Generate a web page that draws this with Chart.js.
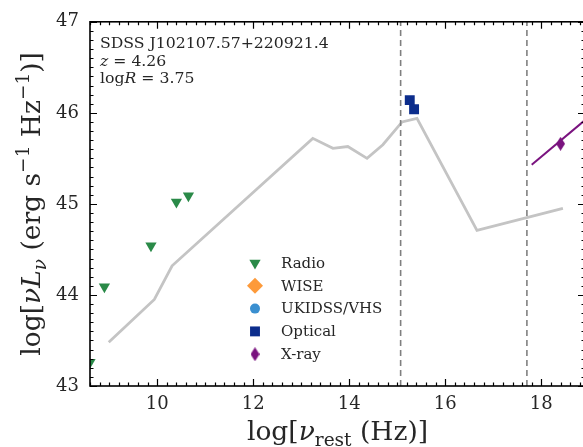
<!DOCTYPE html>
<html>
<head>
<meta charset="utf-8">
<script src="https://cdn.jsdelivr.net/npm/chart.js@4.4.0/dist/chart.umd.min.js"></script>
<style>
    html, body { margin: 0; padding: 0; background: #fff; overflow: hidden; }
    #wrap { width: 600px; height: 447px; }
</style>
</head>
<body>
<div id="wrap"><canvas id="sedChart" width="600" height="447"></canvas></div>
<script>
// axis ranges and tick labels
const xRange = [8.6, 18.91];
const yRange = [43, 47];
const xTickValues = [10, 12, 14, 16, 18];
const yTickValues = [43, 44, 45, 46, 47];

// SED template (grey line)
const sedX = [8.99, 9.94, 10.31, 13.24, 13.66, 13.97, 14.37, 14.70, 15.10, 15.41, 16.66, 18.45];
const sedY = [43.48, 43.95, 44.32, 45.72, 45.61, 45.63, 45.50, 45.65, 45.90, 45.94, 44.71, 44.95];

// photometry
const radioX = [8.60, 8.90, 9.87, 10.40, 10.65];
const radioY = [43.26, 44.09, 44.54, 45.02, 45.09];
const wiseX = [];
const wiseY = [];
const ukidssX = [];
const ukidssY = [];
const opticalX = [15.26, 15.35];
const opticalY = [46.14, 46.04];
const xrayX = [18.40];
const xrayY = [45.66];
const xrayFitX = [17.80, 19.00];
const xrayFitY = [45.43, 45.96];

// band edges (dashed verticals)
const bandEdges = [15.07, 17.70];

const FONT = "'DejaVu Serif', 'Liberation Serif', serif";

function pts(xs, ys) {
    return xs.map((x, i) => ({ x: x, y: ys[i] }));
}

// thin diamond marker like matplotlib 'd'
function thinDiamond(w, h, color) {
    const c = document.createElement('canvas');
    c.width = w; c.height = h;
    const g = c.getContext('2d');
    g.fillStyle = color;
    g.beginPath();
    g.moveTo(w / 2, 0);
    g.lineTo(w, h / 2);
    g.lineTo(w / 2, h);
    g.lineTo(0, h / 2);
    g.closePath();
    g.fill();
    return c;
}

const xrayColor = '#7a137f';
const xrayMarker = thinDiamond(9, 14, xrayColor);

const datasets = [
    {
        label: 'Radio', inLegend: true, data: pts(radioX, radioY),
        pointStyle: 'triangle', rotation: 180, pointRadius: 6.5,
        backgroundColor: '#2a8a48', borderColor: '#2a8a48', borderWidth: 0, order: 1
    },
    {
        label: 'WISE', inLegend: true, data: pts(wiseX, wiseY),
        pointStyle: 'rectRot', pointRadius: 8,
        backgroundColor: '#fd9a3a', borderColor: '#fd9a3a', borderWidth: 0, order: 1
    },
    {
        label: 'UKIDSS/VHS', inLegend: true, data: pts(ukidssX, ukidssY),
        pointStyle: 'circle', pointRadius: 5,
        backgroundColor: '#3a8fd0', borderColor: '#3a8fd0', borderWidth: 0, order: 1
    },
    {
        label: 'Optical', inLegend: true, data: pts(opticalX, opticalY),
        pointStyle: 'rect', pointRadius: 7,
        backgroundColor: '#0c2d8c', borderColor: '#0c2d8c', borderWidth: 0, order: 1
    },
    {
        label: 'X-ray', inLegend: true, data: pts(xrayX, xrayY),
        pointStyle: xrayMarker, pointRadius: 7,
        backgroundColor: xrayColor, borderColor: xrayColor, borderWidth: 0, order: 1
    },
    {
        label: 'X-ray fit', data: pts(xrayFitX, xrayFitY), showLine: true,
        borderColor: xrayColor, borderWidth: 2, pointRadius: 0, order: 2
    },
    {
        label: 'SED', data: pts(sedX, sedY), showLine: true,
        borderColor: '#c4c4c4', borderWidth: 2.8, pointRadius: 0, order: 5
    }
];

bandEdges.forEach(e => {
    datasets.push({
        label: 'edge', data: [{ x: e, y: yRange[0] }, { x: e, y: yRange[1] }], showLine: true,
        borderColor: '#7f7f7f', borderWidth: 1.6, borderDash: [6, 4], pointRadius: 0, order: 4
    });
});

// text with italic / sub / superscript parts
function drawRich(ctx, parts, x, y, size, align) {
    const fontFor = p => {
        const st = p[1] || '';
        const s = (st.includes('sub') || st.includes('sup')) ? size * 0.7 : size;
        return (st.includes('i') ? 'italic ' : '') + s + 'px ' + FONT;
    };
    const widths = parts.map(p => { ctx.font = fontFor(p); return ctx.measureText(p[0]).width; });
    const total = widths.reduce((a, b) => a + b, 0);
    let cx = align === 'center' ? x - total / 2 : x;
    ctx.textAlign = 'left';
    ctx.textBaseline = 'alphabetic';
    parts.forEach((p, i) => {
        const st = p[1] || '';
        let dy = 0;
        if (st.includes('sub')) dy = size * 0.22;
        if (st.includes('sup')) dy = -size * 0.4;
        ctx.font = fontFor(p);
        ctx.fillText(p[0], cx, y + dy);
        cx += widths[i];
    });
}

const framePlugin = {
    id: 'frame',
    afterDraw(chart) {
        const ctx = chart.ctx;
        const a = chart.chartArea;
        const xs = chart.scales.x, ys = chart.scales.y;
        ctx.save();

        // inward ticks on all four sides
        ctx.strokeStyle = '#000';
        ctx.lineWidth = 1.2;
        ctx.beginPath();
        const xMinor = [];
        for (let v = Math.ceil(xRange[0] / 0.2) * 0.2; v <= xRange[1]; v += 0.2) xMinor.push(v);
        const yMinor = [];
        for (let v = yRange[0]; v <= yRange[1] + 1e-9; v += 0.1) yMinor.push(v);
        xMinor.forEach(v => {
            const p = Math.round(xs.getPixelForValue(v)) + 0.5;
            ctx.moveTo(p, a.bottom); ctx.lineTo(p, a.bottom - 3.5);
            ctx.moveTo(p, a.top); ctx.lineTo(p, a.top + 3.5);
        });
        yMinor.forEach(v => {
            const p = Math.round(ys.getPixelForValue(v)) + 0.5;
            ctx.moveTo(a.left, p); ctx.lineTo(a.left + 3.5, p);
            ctx.moveTo(a.right, p); ctx.lineTo(a.right - 3.5, p);
        });
        xTickValues.forEach(v => {
            const p = Math.round(xs.getPixelForValue(v)) + 0.5;
            ctx.moveTo(p, a.bottom); ctx.lineTo(p, a.bottom - 7);
            ctx.moveTo(p, a.top); ctx.lineTo(p, a.top + 7);
        });
        yTickValues.forEach(v => {
            const p = Math.round(ys.getPixelForValue(v)) + 0.5;
            ctx.moveTo(a.left, p); ctx.lineTo(a.left + 7, p);
            ctx.moveTo(a.right, p); ctx.lineTo(a.right - 7, p);
        });
        ctx.stroke();

        // spines
        ctx.lineWidth = 1.6;
        ctx.strokeRect(a.left, a.top, a.right - a.left, a.bottom - a.top);

        // info text
        ctx.fillStyle = '#262626';
        drawRich(ctx, [['SDSS J102107.57+220921.4', '']], a.left + 10, a.top + 26, 15.7, 'left');
        drawRich(ctx, [['z', 'i'], [' = 4.26', '']], a.left + 10, a.top + 44, 15.7, 'left');
        drawRich(ctx, [['log', ''], ['R', 'i'], [' = 3.75', '']], a.left + 10, a.top + 61, 15.7, 'left');

        // legend
        let row = 0;
        chart.data.datasets.forEach(ds => {
            if (!ds.inLegend) return;
            const ly = 263 + row * 22.8;
            ctx.fillStyle = ds.backgroundColor;
            ctx.strokeStyle = ds.borderColor;
            Chart.helpers.drawPoint(ctx, {
                pointStyle: ds.pointStyle, rotation: ds.rotation || 0,
                radius: ds.pointRadius, borderWidth: 0
            }, 255, ly);
            ctx.fillStyle = '#262626';
            ctx.font = '15px ' + FONT;
            ctx.textAlign = 'left';
            ctx.textBaseline = 'middle';
            ctx.fillText(ds.label, 281, ly + 1);
            row++;
        });

        // axis titles
        ctx.fillStyle = '#262626';
        drawRich(ctx, [['log[', ''], ['ν', 'i'], ['rest', 'sub'], [' (Hz)]', '']],
            (a.left + a.right) / 2, 440, 26.5, 'center');
        ctx.save();
        ctx.translate(40, (a.top + a.bottom) / 2);
        ctx.rotate(-Math.PI / 2);
        drawRich(ctx, [['log[', ''], ['ν', 'i'], ['L', 'i'], ['ν', 'isub'],
            [' (erg s', ''], ['−1', 'sup'], [' Hz', ''], ['−1', 'sup'], [')]', '']],
            0, 0, 26.5, 'center');
        ctx.restore();

        ctx.restore();
    }
};

new Chart(document.getElementById('sedChart').getContext('2d'), {
    type: 'scatter',
    data: { datasets: datasets },
    options: {
        responsive: false,
        animation: false,
        events: [],
        layout: { padding: { top: 15, right: 15, left: 0, bottom: 0 } },
        plugins: { legend: { display: false }, tooltip: { enabled: false } },
        scales: {
            x: {
                type: 'linear', min: xRange[0], max: xRange[1],
                grid: { display: false, drawTicks: false },
                border: { display: false },
                afterBuildTicks: s => { s.ticks = xTickValues.map(v => ({ value: v })); },
                afterFit: s => { s.height = 61; },
                ticks: { padding: 8, color: '#262626', font: { family: FONT, size: 18 }, maxRotation: 0 }
            },
            y: {
                type: 'linear', min: yRange[0], max: yRange[1],
                grid: { display: false, drawTicks: false },
                border: { display: false },
                afterBuildTicks: s => { s.ticks = yTickValues.map(v => ({ value: v })); },
                afterFit: s => { s.width = 90; },
                ticks: { padding: 11, color: '#262626', font: { family: FONT, size: 18 } }
            }
        }
    },
    plugins: [framePlugin]
});
</script>
</body>
</html>
